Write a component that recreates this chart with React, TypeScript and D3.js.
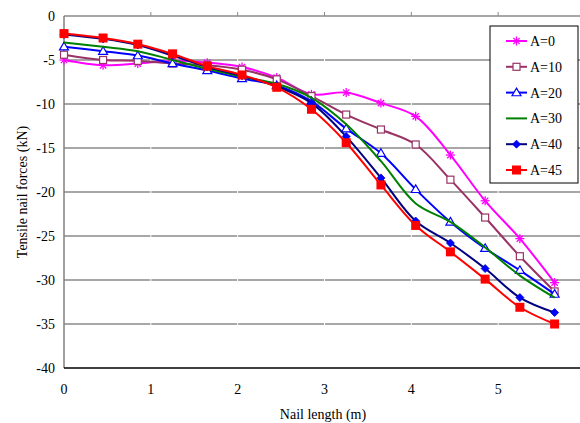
import React from "react"
import * as d3 from "d3"

const nailLength = [0, 0.45, 0.85, 1.25, 1.65, 2.05, 2.45, 2.85, 3.25, 3.65, 4.05, 4.45, 4.85, 5.25, 5.65]

const a0 = [-5.0, -5.6, -5.4, -5.1, -5.3, -5.8, -7.0, -8.9, -8.7, -9.9, -11.4, -15.8, -21.0, -25.3, -30.3]
const a10 = [-4.4, -5.0, -5.1, -5.4, -5.6, -6.1, -7.2, -9.1, -11.2, -12.9, -14.6, -18.6, -22.9, -27.3, -31.3]
const a20 = [-3.5, -4.0, -4.5, -5.4, -6.2, -7.1, -7.9, -9.7, -12.8, -15.6, -19.7, -23.4, -26.4, -28.9, -31.6]
const a30 = [-3.0, -3.5, -4.0, -5.0, -6.0, -6.9, -7.7, -9.3, -12.3, -16.5, -21.3, -23.4, -26.3, -29.5, -32.0]
const a40 = [-2.1, -2.6, -3.3, -4.5, -5.8, -6.8, -8.0, -9.9, -13.7, -18.4, -23.3, -25.8, -28.7, -32.0, -33.7]
const a45 = [-2.0, -2.5, -3.2, -4.3, -5.7, -6.7, -8.1, -10.6, -14.4, -19.2, -23.8, -26.8, -29.9, -33.1, -35.0]

const seriesNames = ["A=0", "A=10", "A=20", "A=30", "A=40", "A=45"]
const seriesValues = [a0, a10, a20, a30, a40, a45]
const seriesColors = ["#ff00ff", "#993366", "#0000ff", "#008000", "#000080", "#ff0000"]
const markerKinds = ["star", "openSquare", "openTriangle", "none", "dot", "square"]

const xTicks = [0, 1, 2, 3, 4, 5, 6]
const yTicks = [0, -5, -10, -15, -20, -25, -30, -35, -40]

const W = 580
const H = 423
const margin = { top: 16, left: 64, bottom: 55, right: -5 }

const x = d3.scaleLinear().domain([0, 6]).range([margin.left, W - margin.right])
const y = d3.scaleLinear().domain([0, -40]).range([margin.top, H - margin.bottom])

const font = "'Liberation Serif', 'Times New Roman', serif"

function Marker({ kind, cx, cy, color }: { kind: string; cx: number; cy: number; color: string }) {
  if (kind === "star") {
    const r = 4.5
    return (
      <g stroke={color} strokeWidth={1.3}>
        <line x1={cx - r} y1={cy} x2={cx + r} y2={cy} />
        <line x1={cx - r * 0.7} y1={cy - r * 0.7} x2={cx + r * 0.7} y2={cy + r * 0.7} />
        <line x1={cx - r * 0.7} y1={cy + r * 0.7} x2={cx + r * 0.7} y2={cy - r * 0.7} />
        <line x1={cx} y1={cy - r} x2={cx} y2={cy + r} />
      </g>
    )
  }
  if (kind === "openSquare") {
    return <rect x={cx - 3.5} y={cy - 3.5} width={7} height={7} fill="#fff" stroke={color} strokeWidth={1.2} />
  }
  if (kind === "openTriangle") {
    const r = 4.5
    return (
      <path
        d={`M${cx},${cy - r}L${cx + r},${cy + r * 0.7}L${cx - r},${cy + r * 0.7}Z`}
        fill="#fff"
        stroke={color}
        strokeWidth={1.2}
      />
    )
  }
  if (kind === "dot") {
    return <path d={`M${cx},${cy - 4}L${cx + 4},${cy}L${cx},${cy + 4}L${cx - 4},${cy}Z`} fill="#0000ff" stroke="#0000cc" strokeWidth={0.8} />
  }
  if (kind === "square") {
    return <rect x={cx - 4.5} y={cy - 4.5} width={9} height={9} fill={color} />
  }
  return null
}

export default function App() {
  const line = d3
    .line<number>()
    .x((_, i) => x(nailLength[i]))
    .y((d) => y(d))
    .curve(d3.curveCatmullRom.alpha(0.5))

  const legendX = 490
  const legendY = 26
  const rowH = 25.8

  return (
    <>
      <style>{`body{margin:0}`}</style>
      <svg width={W} height={H} style={{ display: "block", fontFamily: font }}>
        <rect width={W} height={H} fill="#fff" />
        {/* horizontal gridlines */}
        {yTicks.slice(1, -1).map((t) => (
          <line key={t} x1={x(0)} x2={W} y1={y(t)} y2={y(t)} stroke="#8a8a8a" strokeWidth={1.3} />
        ))}
        {/* faint vertical breaks */}
        {xTicks.slice(1).map((t) => (
          <line key={t} x1={x(t)} x2={x(t)} y1={y(0) + 1} y2={y(-40) - 1} stroke="#fff" strokeWidth={1} />
        ))}
        {/* top axis line with ticks */}
        <line x1={x(0)} x2={W} y1={y(0)} y2={y(0)} stroke="#8a8a8a" strokeWidth={1.3} />
        {xTicks.slice(1).map((t) => (
          <line key={t} x1={x(t)} x2={x(t)} y1={y(0) - 4} y2={y(0)} stroke="#8a8a8a" strokeWidth={1} />
        ))}
        {/* left axis */}
        <line x1={x(0)} x2={x(0)} y1={y(0)} y2={y(-40)} stroke="#808080" strokeWidth={1.5} />
        {/* bottom line */}
        <line x1={x(0)} x2={W} y1={y(-40)} y2={y(-40)} stroke="#000" strokeWidth={1.3} />

        {yTicks.map((t) => (
          <text key={t} x={55} y={y(t)} dy="0.35em" textAnchor="end" fontSize={14}>
            {t}
          </text>
        ))}
        {xTicks.map((t) => (
          <text key={t} x={x(t)} y={394} textAnchor="middle" fontSize={14}>
            {t}
          </text>
        ))}
        <text x={323} y={419} textAnchor="middle" fontSize={14}>
          Nail length (m)
        </text>
        <text transform={`translate(27,${y(-20)}) rotate(-90)`} textAnchor="middle" fontSize={14}>
          Tensile nail forces (kN)
        </text>

        {seriesValues.map((vals, si) => (
          <g key={seriesNames[si]}>
            <path d={line(vals) || ""} fill="none" stroke={seriesColors[si]} strokeWidth={2} />
            {vals.map((v, i) => (
              <Marker key={i} kind={markerKinds[si]} cx={x(nailLength[i])} cy={y(v)} color={seriesColors[si]} />
            ))}
          </g>
        ))}

        {/* legend */}
        <rect x={legendX} y={legendY} width={88} height={157} fill="#fff" stroke="#000" strokeWidth={1} />
        {seriesNames.map((n, i) => {
          const cy = legendY + 15 + i * rowH
          return (
            <g key={n}>
              <line x1={506} x2={527} y1={cy} y2={cy} stroke={seriesColors[i]} strokeWidth={2} />
              <Marker kind={markerKinds[i]} cx={516.5} cy={cy} color={seriesColors[i]} />
              <text x={530} y={cy} dy="0.35em" fontSize={14}>
                {n}
              </text>
            </g>
          )
        })}
      </svg>
    </>
  )
}
